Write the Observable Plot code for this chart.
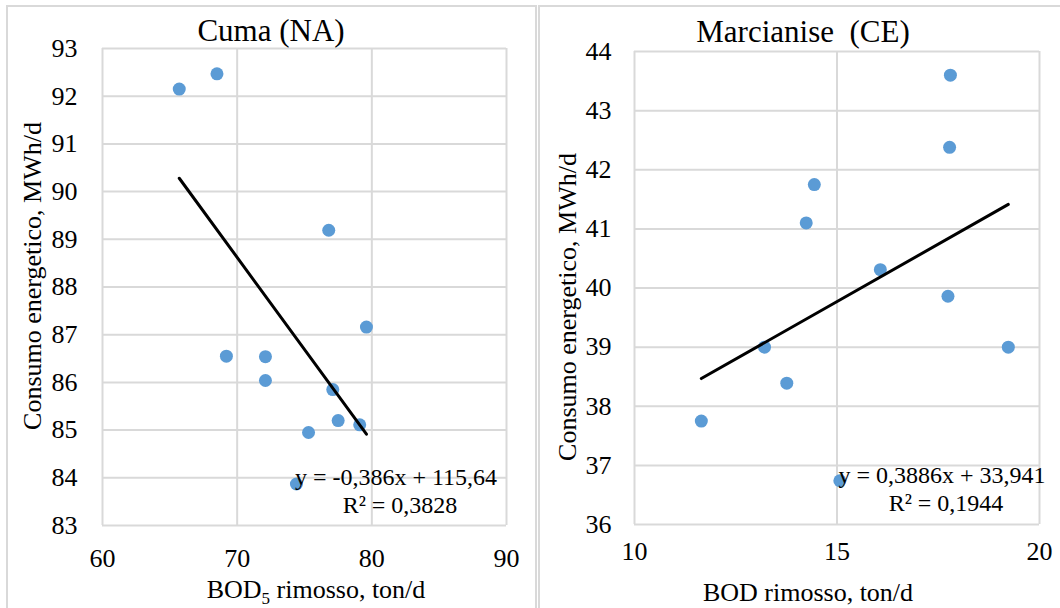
<!DOCTYPE html>
<html>
<head>
<meta charset="utf-8">
<script src="https://cdn.jsdelivr.net/npm/d3@7"></script>
<script src="https://cdn.jsdelivr.net/npm/@observablehq/plot@0.6"></script>
<style>
  html, body { margin: 0; padding: 0; background: #fff; }
  #wrap { position: relative; width: 1060px; height: 608px; overflow: hidden; background: #fff; }
  .panel { position: absolute; border: 2px solid #d9d9d9; box-sizing: border-box; }
  .chart { position: absolute; top: 0; }
  .chart text { font-family: "Liberation Serif", "Times New Roman", serif !important; font-variant: normal !important; }
</style>
</head>
<body>
<div id="wrap">
  <div class="panel" style="left:6px; top:5px; width:531px; height:700px;"></div>
  <div class="panel" style="left:538px; top:5px; width:600px; height:700px;"></div>
</div>
<script>
// ---- Data ----
const cumaTitle = "Cuma (NA)";
const cumaX = [65.7, 68.5, 76.8, 79.6, 69.2, 72.1, 72.1, 77.1, 77.5, 79.1, 75.3, 74.4];
const cumaY = [92.15, 92.47, 89.19, 87.16, 86.55, 86.54, 86.04, 85.85, 85.2, 85.11, 84.95, 83.87];
const cumaTrend = [-0.386, 115.64];          // slope, intercept
const cumaEq = ["y = -0,386x + 115,64", "R² = 0,3828"];
const cumaXTicks = [60, 70, 80, 90];
const cumaYTicks = [83, 84, 85, 86, 87, 88, 89, 90, 91, 92, 93];

const marcTitle = "Marcianise  (CE)";
const marcX = [17.8, 17.78, 14.44, 14.24, 16.07, 17.74, 13.21, 19.23, 13.76, 11.65, 15.07];
const marcY = [43.6, 42.38, 41.75, 41.1, 40.31, 39.86, 39.0, 39.0, 38.39, 37.75, 36.74];
const marcTrend = [0.3886, 33.941];
const marcEq = ["y = 0,3886x + 33,941", "R² = 0,1944"];
const marcXTicks = [10, 15, 20];
const marcYTicks = [36, 37, 38, 39, 40, 41, 42, 43, 44];

const yLabel = "Consumo energetico, MWh/d";
const FONT = "'Liberation Serif', 'Times New Roman', serif";
const DOT = "#5b9bd5";
const GRID = "#d9d9d9";

function panel(cfg) {
  const pts = cfg.xs.map((x, i) => ({x, y: cfg.ys[i]}));
  const [x0, x1] = d3.extent(cfg.xs);
  const trend = [x0, x1].map(x => ({x, y: cfg.trend[0] * x + cfg.trend[1]}));
  const plot = Plot.plot({
    width: 530,
    height: 608,
    marginLeft: cfg.m[0], marginRight: cfg.m[1], marginTop: cfg.m[2], marginBottom: cfg.m[3],
    style: {fontFamily: FONT, fontSize: "26px", color: "#000", background: "transparent", overflow: "visible"},
    x: {domain: cfg.xDomain},
    y: {domain: cfg.yDomain},
    marks: [
      Plot.gridX(cfg.xTicks, {stroke: GRID, strokeOpacity: 1, strokeWidth: 2}),
      Plot.gridY(cfg.yTicks, {stroke: GRID, strokeOpacity: 1, strokeWidth: 2}),
      Plot.axisX({ticks: cfg.xTicks, tickSize: 0, tickPadding: cfg.xPad, label: null, fontSize: 26, fontFamily: FONT, fontVariant: "normal"}),
      Plot.axisY({ticks: cfg.yTicks, tickSize: 0, tickPadding: cfg.yPad, label: null, fontSize: 26, fontFamily: FONT, fontVariant: "normal"}),
      Plot.dot(pts, {x: "x", y: "y", r: 6.5, fill: DOT, stroke: null}),
      Plot.line(trend, {x: "x", y: "y", stroke: "#000", strokeWidth: 3}),
    ]
  });
  plot.classList.add("chart");
  plot.style.left = cfg.left + "px";
  const svg = d3.select(plot);
  const t = (x, y, txt, size, anchor = "middle") =>
    svg.append("text").attr("x", x).attr("y", y).attr("text-anchor", anchor)
      .attr("font-family", FONT).attr("font-size", size).attr("fill", "#000").text(txt);
  // title
  t(cfg.title[1], cfg.title[2], cfg.title[0], 31);
  // y label
  svg.append("text")
    .attr("transform", `translate(${cfg.yl[0]},${cfg.yl[1]}) rotate(-90)`)
    .attr("text-anchor", "middle").attr("font-family", FONT).attr("font-size", 26)
    .attr("fill", "#000").text(yLabel);
  // x label
  const xl = svg.append("text").attr("x", cfg.xl[0]).attr("y", cfg.xl[1])
    .attr("text-anchor", "middle").attr("font-family", FONT).attr("font-size", 26).attr("fill", "#000");
  if (cfg.sub) {
    xl.append("tspan").text("BOD");
    xl.append("tspan").attr("dy", 6).attr("font-size", 17).text("5");
    xl.append("tspan").attr("dy", -6).text(" rimosso, ton/d");
  } else {
    xl.text("BOD rimosso, ton/d");
  }
  // equation
  t(cfg.eq[0], cfg.eq[1], cfg.eqText[0], 24);
  t(cfg.eq[0] + 4, cfg.eq[1] + 28, cfg.eqText[1], 24);
  return plot;
}

const wrap = document.getElementById("wrap");
wrap.appendChild(panel({
  left: 0, xs: cumaX, ys: cumaY, trend: cumaTrend, eqText: cumaEq,
  xTicks: cumaXTicks, yTicks: cumaYTicks, xDomain: [60, 90], yDomain: [83, 93],
  m: [102, 24, 48, 83], xPad: 23, yPad: 25,
  title: [cumaTitle, 271, 41], yl: [41, 276], xl: [316, 598], sub: true,
  eq: [396, 485]
}));
wrap.appendChild(panel({
  left: 530, xs: marcX, ys: marcY, trend: marcTrend, eqText: marcEq,
  xTicks: marcXTicks, yTicks: marcYTicks, xDomain: [10, 20], yDomain: [36, 44],
  m: [104, 21, 51, 84], xPad: 17, yPad: 23,
  title: [marcTitle, 273, 42], yl: [46, 307], xl: [278, 601], sub: false,
  eq: [412, 483]
}));
</script>
</body>
</html>
